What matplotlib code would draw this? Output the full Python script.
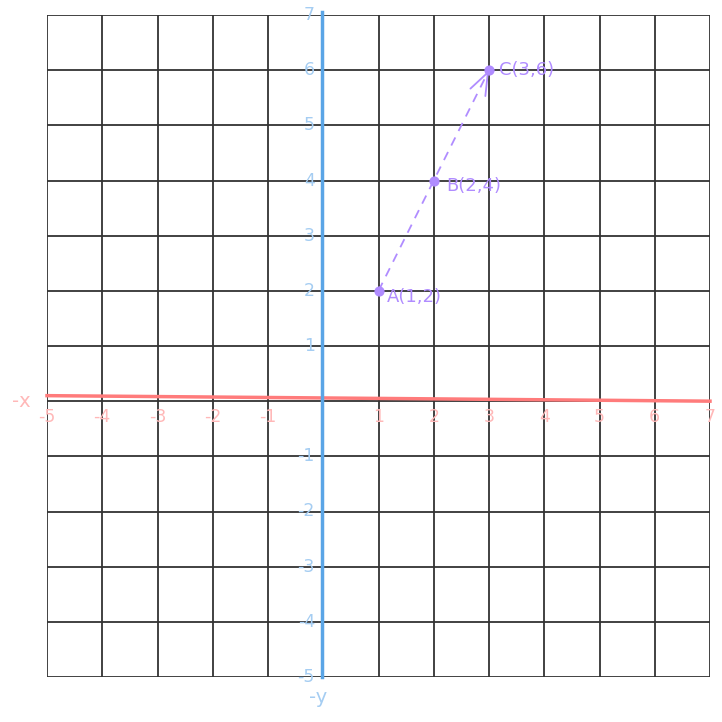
import matplotlib
matplotlib.use("Agg")
import matplotlib.pyplot as plt

# Data
point_names = ["A", "B", "C"]
point_x = [1, 2, 3]
point_y = [2, 4, 6]
x_ticks = [-5, -4, -3, -2, -1, 1, 2, 3, 4, 5, 6, 7]
y_ticks = [-5, -4, -3, -2, -1, 1, 2, 3, 4, 5, 6, 7]
x_min, x_max = -5, 7
y_min, y_max = -5, 7

grid_color = "#333333"
x_color = "#ff7b7b"
x_label_color = "#ffb8b8"
y_color = "#5aa5e6"
y_label_color = "#a5cdf2"
pt_color = "#b08cff"

fig = plt.figure(figsize=(7.22, 7.22), dpi=100)
ax = fig.add_axes([47/722, 1-677/722, (710-47)/722, (677-15)/722])
ax.set_xlim(x_min, x_max)
ax.set_ylim(y_min, y_max)
ax.axis("off")

# grid
for gx in range(x_min, x_max + 1):
    ax.plot([gx, gx], [y_min, y_max], color=grid_color, lw=1.3, zorder=1, solid_capstyle="butt")
for gy in range(y_min, y_max + 1):
    ax.plot([x_min, x_max], [gy, gy], color=grid_color, lw=1.3, zorder=1, solid_capstyle="butt")

# axes
ax.plot([x_min, x_max], [0.1, 0.0], color=x_color, lw=2.5, zorder=3, clip_on=False)
ax.plot([-0.03, -0.03], [y_min, y_max + 0.05], color=y_color, lw=2.5, zorder=3, clip_on=False)

# tick labels
for t in x_ticks:
    ax.text(t, -0.12, str(t), color=x_label_color, fontsize=12.5, ha="center", va="top", zorder=4)
for t in y_ticks:
    ax.text(-0.15, t, str(t), color=y_label_color, fontsize=12.5, ha="right", va="center", zorder=4)
ax.text(x_min - 0.3, 0.0, "-x", color=x_label_color, fontsize=14, ha="right", va="center", clip_on=False)
ax.text(-0.1, y_min - 0.2, "-y", color=y_label_color, fontsize=14, ha="center", va="top", clip_on=False)

# points and dashed path
ax.plot(point_x, point_y, color=pt_color, lw=1.3, ls=(0, (5, 4)), zorder=5)
hx = point_x[2] - 0.01 * (point_x[2] - point_x[1])
hy = point_y[2] - 0.01 * (point_y[2] - point_y[1])
ax.annotate("", xy=(point_x[2], point_y[2]), xytext=(hx, hy),
            arrowprops=dict(arrowstyle="->,head_length=1.6,head_width=0.6", color=pt_color,
                            lw=1.3, shrinkA=0, shrinkB=0), zorder=5)
ax.scatter(point_x, point_y, s=40, color=pt_color, zorder=6)

offsets = {"A": (0.15, -0.12), "B": (0.22, -0.1), "C": (0.18, 0.0)}
for n, px, py in zip(point_names, point_x, point_y):
    dx, dy = offsets[n]
    ax.text(px + dx, py + dy, f"{n}({px},{py})", color=pt_color, fontsize=13,
            ha="left", va="center", zorder=7)

fig.savefig("out.png", dpi=100)
